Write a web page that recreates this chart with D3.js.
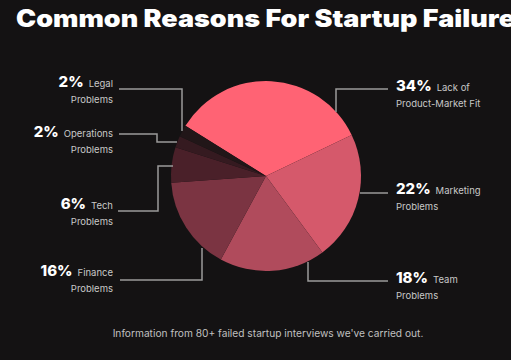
<!DOCTYPE html>
<html><head><meta charset="utf-8">
<script src="https://cdn.jsdelivr.net/npm/d3@7"></script>
<style>
html,body{margin:0;padding:0;background:#141213;overflow:hidden;}
svg{display:block;}
</style></head>
<body>
<script>
const categories = ["Lack of Product-Market Fit","Marketing Problems","Team Problems","Finance Problems","Tech Problems","Operations Problems","Legal Problems"];
const values = [34, 22, 18, 16, 6, 2, 2];
const colors = ["#ff6374","#d5596b","#b04b5c","#7b3442","#4a2029","#351a20","#211618"];
const labelFirst = ["Lack of","Marketing","Team","Finance","Tech","Operations","Legal"];
const labelSecond = ["Product-Market Fit","Problems","Problems","Problems","Problems","Problems","Problems"];

const W = 511, H = 360;
const svg = d3.select("body").append("svg").attr("width", W).attr("height", H);
svg.append("rect").attr("width", W).attr("height", H).attr("fill", "#141213");

svg.append("text").attr("x", 16).attr("y", 27)
  .attr("font-family", "Inter, 'Open Sans', sans-serif").attr("font-weight", 900)
  .attr("font-size", 24).attr("fill", "#fff")
  .attr("textLength", 499).attr("lengthAdjust", "spacingAndGlyphs")
  .text("Common Reasons For Startup Failure");

const cx = 266, cy = 176, r = 95;
const startDeg = 302;
const pie = d3.pie().sort(null).value(d => d)
  .startAngle(startDeg * Math.PI / 180).endAngle((startDeg + 360) * Math.PI / 180);
const arcs = pie(values);
const arc = d3.arc().innerRadius(0).outerRadius(r);
const g = svg.append("g").attr("transform", `translate(${cx},${cy})`);
g.selectAll("path").data(arcs).enter().append("path")
  .attr("d", arc).attr("fill", (d, i) => colors[i]);

// leader lines
const lines = [
  [[388, 89], [336, 89], [336, 112]],
  [[360, 193], [388, 193]],
  [[308, 262], [308, 281], [388, 281]],
  [[120, 280], [202, 280], [202, 248]],
  [[118, 211], [158, 211], [158, 166], [173, 166]],
  [[119, 134], [157, 134], [157, 142], [177, 142]],
  [[119, 89], [182, 89], [182, 131]]
];
svg.append("g").selectAll("path").data(lines).enter().append("path")
  .attr("d", d => d3.line()(d)).attr("fill", "none")
  .attr("stroke", "#9a9a9a").attr("stroke-width", 1.5);

// labels
const rightSide = [0, 1, 2];
const labelPos = [
  {x: 396, y: 91}, {x: 396, y: 194}, {x: 396, y: 283},
  {x: 113, y: 276}, {x: 113, y: 209}, {x: 113, y: 137}, {x: 113, y: 87}
];
const lab = svg.append("g").attr("font-family", "Inter, 'Open Sans', sans-serif");
arcs.forEach((a, i) => {
  const p = labelPos[i];
  const right = rightSide.includes(i);
  const t = lab.append("text").attr("x", p.x).attr("y", p.y)
    .attr("text-anchor", right ? "start" : "end");
  t.append("tspan").attr("font-weight", 800).attr("font-size", 15).attr("fill", "#fff")
    .text(values[i] + "%");
  t.append("tspan").attr("dx", 5).attr("font-size", 9.5).attr("fill", "#c8c8c8")
    .text(labelFirst[i]);
  lab.append("text").attr("x", p.x).attr("y", p.y + 15.5)
    .attr("text-anchor", right ? "start" : "end")
    .attr("font-size", 9.5).attr("fill", "#c8c8c8").text(labelSecond[i]);
});

svg.append("text").attr("x", 268).attr("y", 337).attr("text-anchor", "middle")
  .attr("font-family", "Inter, 'Open Sans', sans-serif").attr("font-size", 10.2)
  .attr("fill", "#c0c0c0")
  .text("Information from 80+ failed startup interviews we've carried out.");
</script>
</body></html>
